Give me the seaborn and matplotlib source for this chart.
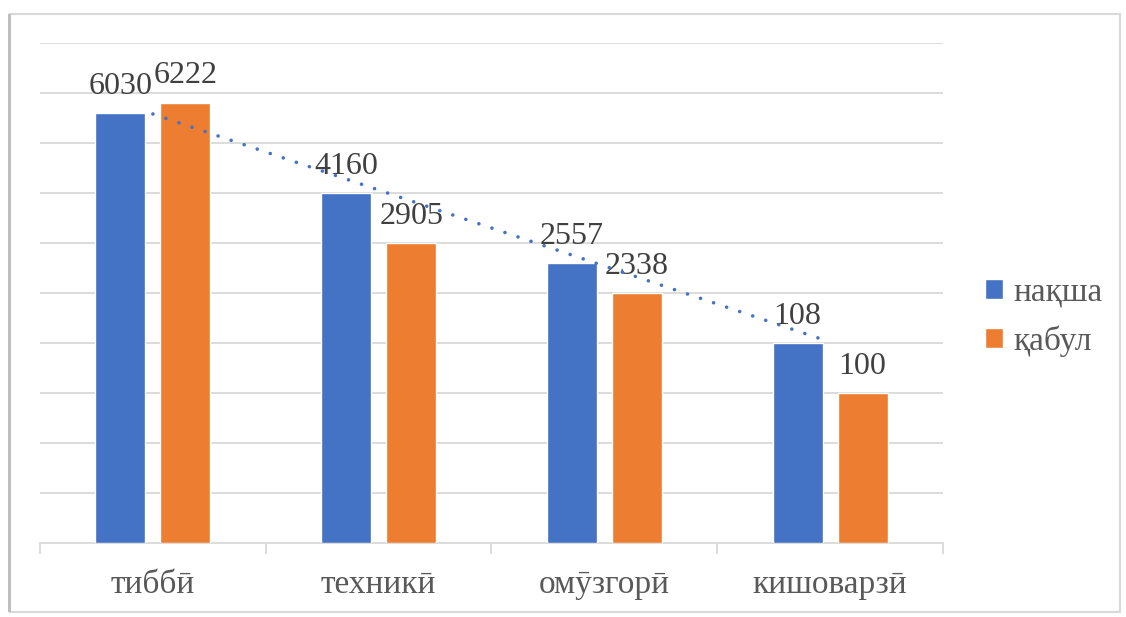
import numpy as np
import pandas as pd
import matplotlib
matplotlib.use("Agg")
import matplotlib.pyplot as plt
import matplotlib.patches as mpatches
import seaborn as sns

# Data (bar heights on the hidden axis, printed labels)
categories = ["тиббӣ", "техникӣ", "омӯзгорӣ", "кишоварзӣ"]
series_names = ["нақша", "қабул"]
plan_heights = [8.6, 7.0, 5.6, 4.0]
accept_heights = [8.8, 6.0, 5.0, 3.0]
plan_labels = ["6030", "4160", "2557", "108"]
accept_labels = ["6222", "2905", "2338", "100"]

BLUE = "#4472C4"
ORANGE = "#ED7D31"
GRID = "#D9D9D9"

sns.set_theme(style="white")
plt.rcParams["font.family"] = ["Liberation Serif", "DejaVu Serif"]

df = pd.DataFrame({
    "category": categories * 2,
    "series": [series_names[0]] * 4 + [series_names[1]] * 4,
    "value": plan_heights + accept_heights,
})

fig = plt.figure(figsize=(11.26, 6.17), dpi=100)
ax = fig.add_axes([40 / 1126, 1 - 543 / 617, 903 / 1126, 500 / 617])

sns.barplot(data=df, x="category", y="value", hue="series",
            palette=[BLUE, ORANGE], width=0.576, gap=0.23,
            saturation=1, ax=ax, legend=True, zorder=3)

# data labels
for cont, labs in zip(ax.containers, [plan_labels, accept_labels]):
    ax.bar_label(cont, labels=labs, padding=9, fontsize=23, color="#404040")

# linear trendline of the first series
xs = np.arange(len(categories))
k, b = np.polyfit(xs, plan_heights, 1)
ax.plot(xs[[0, -1]], k * xs[[0, -1]] + b, color=BLUE, lw=2.6,
        linestyle=(0, (0.01, 3.8)), dash_capstyle="round", zorder=4)

ax.set_ylim(0, 10)
ax.set_xlim(-0.5, 3.5)
ax.set_yticks(np.arange(1, 11))
ax.set_yticklabels([])
ax.tick_params(axis="y", length=0)
ax.grid(axis="y", color=GRID, lw=1.3, zorder=0)
ax.set_axisbelow(True)
for s in ["top", "right", "left"]:
    ax.spines[s].set_visible(False)
ax.spines["bottom"].set_color(GRID)
ax.spines["bottom"].set_linewidth(1.3)
ax.set_xticks(xs)
ax.set_xticklabels(categories, fontsize=24, color="#595959")
ax.tick_params(axis="x", which="major", length=0, pad=19)
ax.set_xticks(np.arange(-0.5, 4, 1), minor=True)
ax.tick_params(axis="x", which="minor", length=8, width=1.3, color=GRID, bottom=True)
ax.set_xlabel("")
ax.set_ylabel("")

handles, lbls = ax.get_legend_handles_labels()
ax.get_legend().remove()
fig.legend(handles, lbls, loc="center left", bbox_to_anchor=(955 / 1126, 1 - 317 / 617),
           frameon=False, fontsize=24, labelcolor="#595959",
           handlelength=0.55, handleheight=0.55, handletextpad=0.3, labelspacing=0.55)

# outer chart border
fig.patches.append(mpatches.Rectangle((10 / 1126, 5 / 617), 1110 / 1126, 598 / 617,
                                      transform=fig.transFigure, fill=False,
                                      edgecolor=GRID, lw=1.5))
fig.patches.append(mpatches.Rectangle((8 / 1126, 5 / 617), 3 / 1126, 598 / 617,
                                      transform=fig.transFigure, color="#BFBFBF", lw=0))

fig.savefig("out.png", dpi=100)
